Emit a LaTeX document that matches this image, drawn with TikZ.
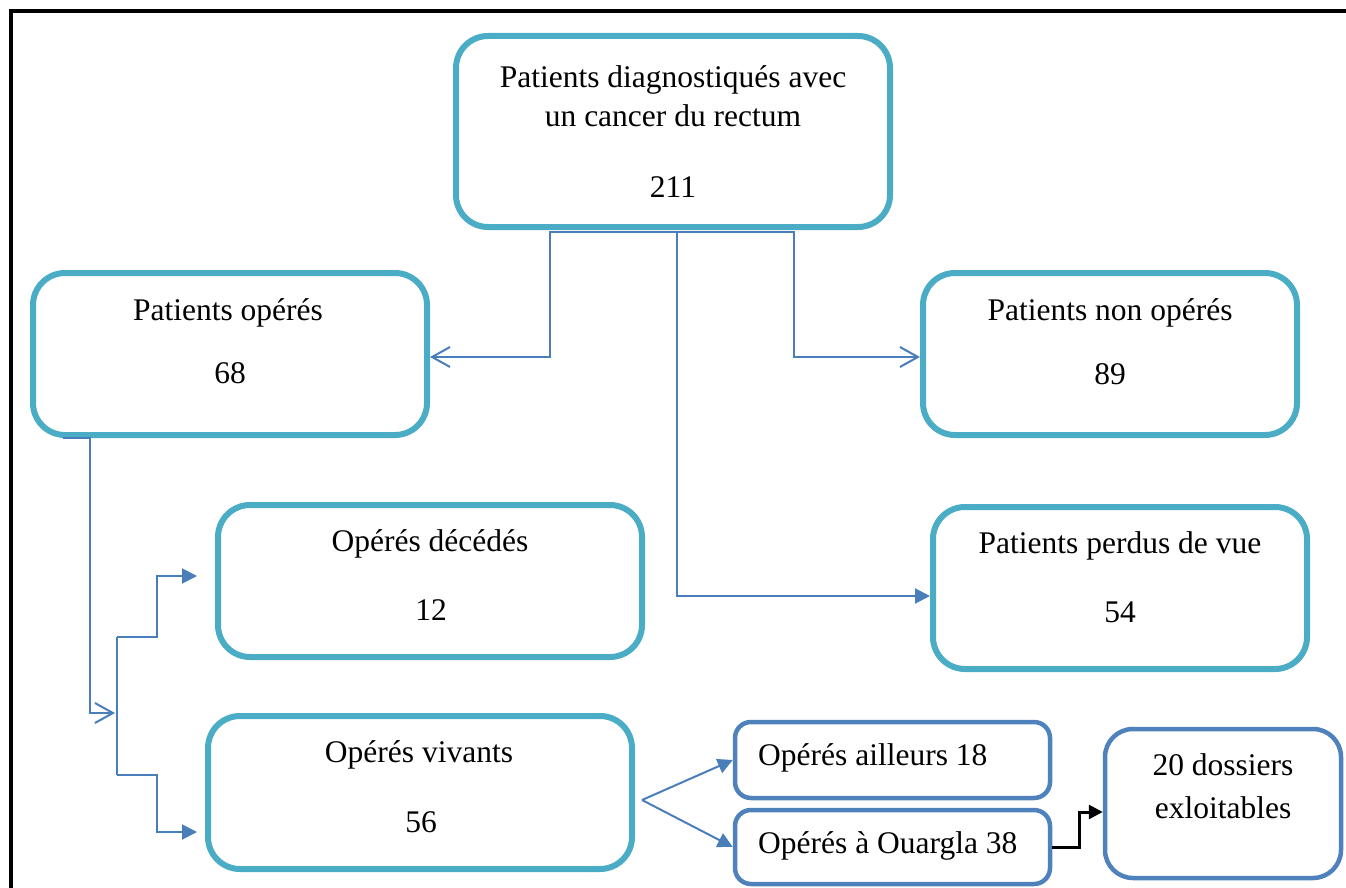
\documentclass[tikz,border=0pt]{standalone}
\usepackage{fontspec}
\setmainfont{Liberation Serif}
\newfontfamily\diagfont{Liberation Serif}
\usetikzlibrary{arrows.meta}
\definecolor{cyanb}{HTML}{4BACC6}
\definecolor{blueb}{HTML}{4F81BD}
\definecolor{connb}{HTML}{4A7EBB}
\begin{document}
\begin{tikzpicture}[x=1pt,y=-1pt,
  boxc/.style={draw=cyanb,line width=6pt,rounded corners=32pt,inner sep=0pt},
  boxb/.style={draw=blueb,line width=4.5pt,rounded corners=16pt,inner sep=0pt},
  txt/.style={inner sep=0pt,anchor=base,font=\diagfont\fontsize{31.5}{38}\selectfont},
  conn/.style={draw=connb,line width=2pt},
  openarr/.style={-{Straight Barb[length=18pt,width=20pt]}},
  fillarr/.style={-{Triangle[length=15pt,width=15pt]}}]
\useasboundingbox (0,0) rectangle (1346,888);
% frame
\draw[line width=4pt] (11,888) -- (11,11) -- (1350,11);
% boxes
\node[boxc,minimum width=434pt,minimum height=191pt] (top) at (673,131.5) {};
\node[boxc,minimum width=394pt,minimum height=162pt] (opr) at (230,354) {};
\node[boxc,minimum width=374pt,minimum height=162pt] (nop) at (1110,354) {};
\node[boxc,minimum width=424pt,minimum height=152pt] (dec) at (430,581) {};
\node[boxc,minimum width=374pt,minimum height=162pt] (per) at (1120,588) {};
\node[boxc,minimum width=424pt,minimum height=153pt] (viv) at (420,792.5) {};
\node[boxb,minimum width=315pt,minimum height=76pt] (ail) at (892.5,760) {};
\node[boxb,minimum width=315pt,minimum height=74pt] (oua) at (892.5,847) {};
\node[boxb,rounded corners=28pt,minimum width=236pt,minimum height=149pt] (dos) at (1223,803.5) {};
% texts
\node[txt] (t1a) at (673,87.7) {Patients diagnostiqués avec};
\node[txt] (t1b) at (673,127) {un cancer du rectum};
\node[txt] (t1c) at (673,197) {211};
\node[txt] (t2a) at (228,320.7) {Patients opérés};
\node[txt] (t2b) at (230,383) {68};
\node[txt] (t3a) at (1110,320.7) {Patients non opérés};
\node[txt] (t3b) at (1110,384) {89};
\node[txt] (t4a) at (430,551) {Opérés décédés};
\node[txt] (t4b) at (431,620) {12};
\node[txt] (t5a) at (1120,553) {Patients perdus de vue};
\node[txt] (t5b) at (1120,622) {54};
\node[txt] (t6a) at (419,762) {Opérés vivants};
\node[txt] (t6b) at (421,832) {56};
\node[txt,anchor=base west] (t7) at (758,765) {Opérés ailleurs 18};
\node[txt,anchor=base west] (t8) at (758,853) {Opérés à Ouargla 38};
\node[txt] (t9a) at (1223,775) {20 dossiers};
\node[txt] (t9b) at (1223,818) {exloitables};
% connectors
\coordinate (hub) at ([xshift=4pt,yshift=-2pt]top.south);
\draw[conn,openarr] (hub) -- ++(-127,0) |- ([yshift=-3pt]opr.east);
\draw[conn,openarr] (hub) -- ++(117,0) |- ([yshift=-3pt]nop.west);
\draw[conn,fillarr] (hub) |- ([yshift=-8pt]per.west);
\coordinate (jn) at (115,713);
\draw[conn,openarr] ([xshift=33pt]opr.south west) -- ++(27,0) |- (jn);
\coordinate (b1) at (117,637);
\coordinate (b2) at (117,775);
\draw[conn] (b1) -- (b2);
\draw[conn,fillarr] (b1) -- ++(40,0) |- ([xshift=-18pt,yshift=5pt]dec.west);
\draw[conn,fillarr] (b2) -- ++(40,0) |- ([xshift=-8pt,yshift=-39.5pt]viv.west);
\coordinate (vs) at ([xshift=7pt,yshift=-7.5pt]viv.east);
\draw[conn,fillarr] (vs) -- (ail.west);
\draw[conn,fillarr] (vs) -- (oua.west);
\draw[line width=3pt,-{Triangle[length=14pt,width=14pt]}] (oua.east) -- ++(27,0) |- ([yshift=-8.5pt]dos.west);
\end{tikzpicture}
\end{document}
